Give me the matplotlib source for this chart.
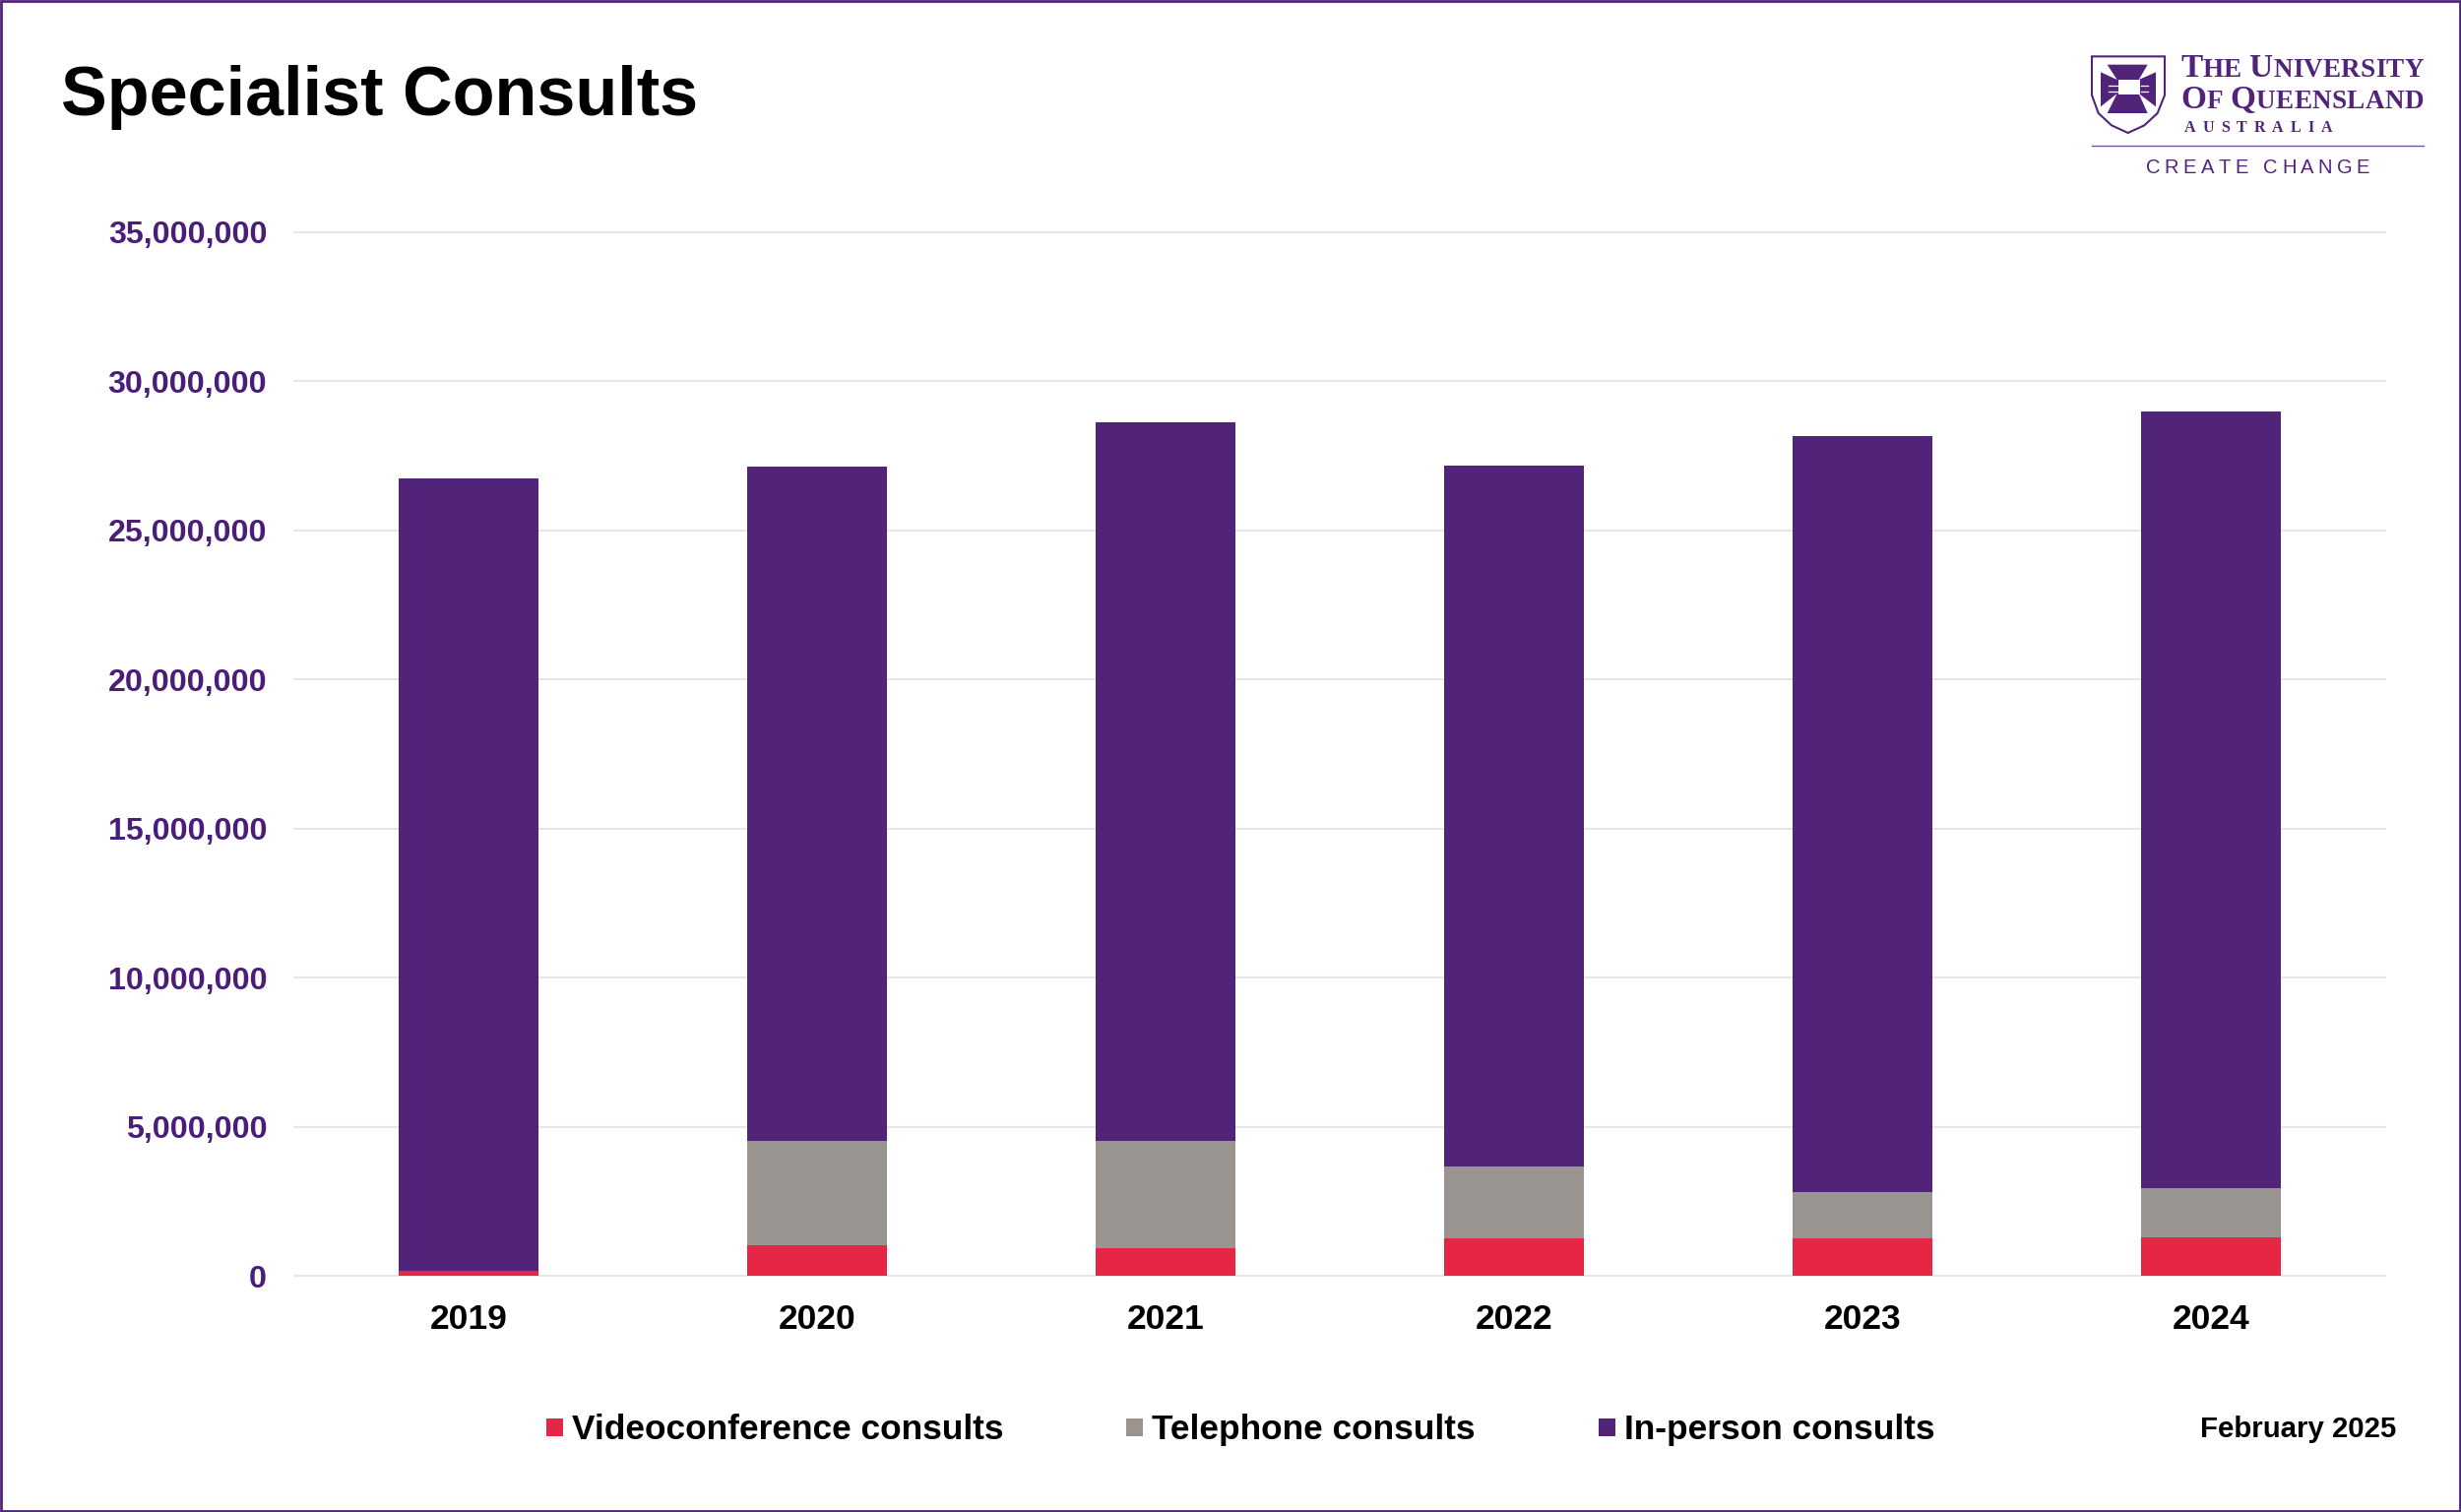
"""Specialist consults by year, stacked bars with the UQ header block."""
import matplotlib

matplotlib.use("Agg")
import matplotlib.pyplot as plt  # noqa: E402
from matplotlib.patches import Polygon, Rectangle  # noqa: E402
from matplotlib.ticker import FuncFormatter  # noqa: E402

PURPLE = "#51247A"
TICK_PURPLE = "#4A1E78"
RED = "#E62645"
GREY = "#999490"
GRID = "#E6E6E6"

W, H = 2500, 1536

years = ["2019", "2020", "2021", "2022", "2023", "2024"]
videoconference = [180000, 1020000, 940000, 1260000, 1260000, 1300000]
telephone = [0, 3490000, 3590000, 2420000, 1540000, 1650000]
in_person = [26560000, 22640000, 24100000, 23480000, 25360000, 26050000]
y_ticks = [0, 5000000, 10000000, 15000000, 20000000, 25000000, 30000000, 35000000]

plt.rcParams["font.family"] = ["Liberation Sans", "DejaVu Sans"]
plt.rcParams["font.weight"] = "bold"

fig = plt.figure(figsize=(W / 100, H / 100), dpi=100, facecolor="white")

# main chart, placed by pixel so the gridlines land where they should
ax = fig.add_axes([299 / W, 1 - 1296 / H, (2423 - 299) / W, (1296 - 236) / H])
x = list(range(len(years)))
base2 = [a + b for a, b in zip(videoconference, telephone)]
ax.bar(x, videoconference, width=0.4, color=RED, zorder=3)
ax.bar(x, telephone, width=0.4, bottom=videoconference, color=GREY, zorder=3)
ax.bar(x, in_person, width=0.4, bottom=base2, color=PURPLE, zorder=3)

ax.set_xlim(-0.5, 5.5)
ax.set_ylim(0, 35000000)
ax.set_xticks(x, years)
ax.set_yticks(y_ticks)
ax.yaxis.set_major_formatter(FuncFormatter(lambda v, _: f"{int(v):,}"))
ax.tick_params(axis="x", length=0, pad=20, labelsize=25.5, labelcolor="black")
ax.tick_params(axis="y", length=0, pad=20, labelsize=23.2, labelcolor=TICK_PURPLE)
ax.grid(axis="y", color=GRID, linewidth=1.5, zorder=0)
for gl in ax.get_ygridlines():
    gl.set_clip_on(False)
for s in ax.spines.values():
    s.set_visible(False)

# overlay in image pixels for the header, legend and frame
ov = fig.add_axes([0, 0, 1, 1], facecolor="none", zorder=5)
ov.set_xlim(0, W)
ov.set_ylim(H, 0)
ov.set_axis_off()
ov.add_patch(Rectangle((1, 1), W - 2, H - 2, fill=False, edgecolor=PURPLE, linewidth=2))

ov.text(62, 117, "Specialist Consults", fontsize=50.5, color="black", va="baseline")
ov.text(2434, 1460, "February 2025", fontsize=21.2, color="black", ha="right", va="baseline")

legend_items = [("Videoconference consults", RED, 555), ("Telephone consults", GREY, 1144),
                ("In-person consults", PURPLE, 1624)]
for label, colour, lx in legend_items:
    ov.add_patch(Rectangle((lx, 1441), 17, 18, facecolor=colour, edgecolor="none"))
    ov.text(lx + 26, 1462, label, fontsize=25.4, color="black", va="baseline")


def run_text(pieces, x0, baseline, width, family="Liberation Serif", weight="bold"):
    """Draw (string, size) pieces end to end, tracked out to a given pixel width."""
    rend = fig.canvas.get_renderer()
    chars = []
    for string, size in pieces:
        for ch in string:
            t = ov.text(x0, baseline, ch, fontsize=size, family=family, weight=weight,
                        color=PURPLE, va="baseline")
            adv = t.get_window_extent(rend).width if ch != " " else size * 0.5
            chars.append((t, adv))
    gap = (width - sum(a for _, a in chars)) / max(len(chars) - 1, 1)
    pos = x0
    for t, adv in chars:
        t.set_x(pos)
        pos += adv + gap


def z(px, py):
    # coordinates measured off the zoomed logo crop
    return 2080 + px / 3, 20 + py / 3


shield = [z(135, 112), z(357, 112), z(357, 230), z(335, 285), z(295, 322), z(245, 345),
          z(195, 322), z(155, 285), z(135, 230)]
ov.add_patch(Polygon(shield, closed=True, fill=False, edgecolor=PURPLE, linewidth=1.5))
cross = [z(182, 137), z(305, 137), z(278, 183), z(330, 160), z(330, 265), z(278, 225),
         z(305, 285), z(182, 285), z(212, 225), z(162, 265), z(162, 160), z(212, 183)]
ov.add_patch(Polygon(cross, closed=True, facecolor=PURPLE, edgecolor="none"))
for bx in (215, 250):
    x1, y1 = z(bx, 184)
    ov.add_patch(Rectangle((x1, y1), 33 / 3, 44 / 3, facecolor="white", edgecolor="none"))
for by in (200, 218):
    x1, y1 = z(185, by)
    x2, _ = z(305, by)
    ov.plot([x1, x1 + 10], [y1, y1], color="white", linewidth=0.9)
    ov.plot([x2 - 7, x2], [y1, y1], color="white", linewidth=0.9)

run_text([("T", 24), ("HE", 19.5), (" ", 14), ("U", 24), ("NIVERSITY", 19.5)], 2215, 78, 247)
run_text([("O", 24), ("F", 19.5), (" ", 14), ("Q", 24), ("UEENSLAND", 19.5)], 2215, 110, 247)
run_text([("AUSTRALIA", 11.5)], 2219, 134, 150)
ov.plot([2125, 2462], [148, 148], color=PURPLE, linewidth=1.0, alpha=0.8)
run_text([("CREATE CHANGE", 14.5)], 2180, 176, 227, family="Liberation Sans", weight="normal")

fig.savefig("out.png", dpi=100, facecolor="white")
plt.close(fig)
